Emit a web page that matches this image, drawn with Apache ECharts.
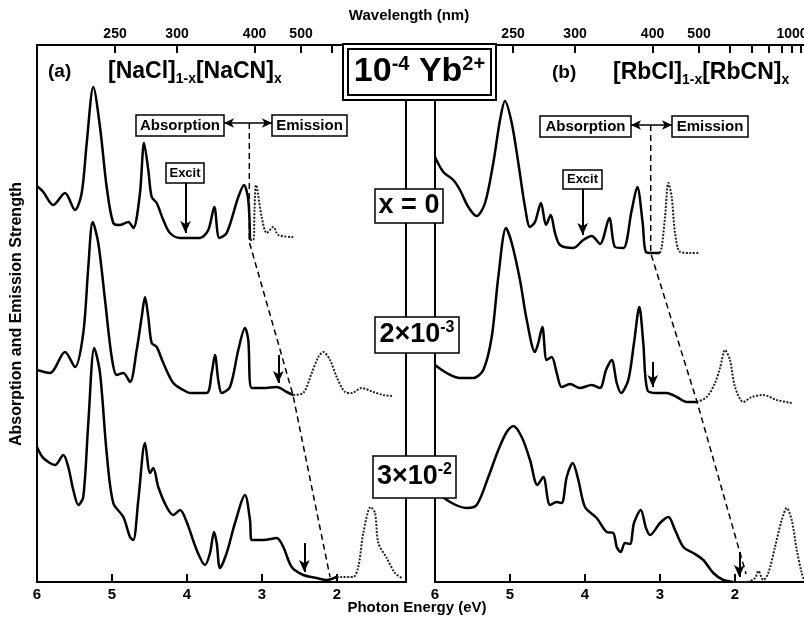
<!DOCTYPE html>
<html>
<head>
<meta charset="utf-8">
<script src="https://cdn.jsdelivr.net/npm/echarts@6/dist/echarts.min.js"></script>
<style>
html, body { margin: 0; padding: 0; background: #fff; }
#main { width: 804px; height: 622px; }
</style>
</head>
<body>
<div id="main"></div>
<script>
var HC = 1239.84;   // eV * nm
var FONT = 'Liberation Sans, Arial, Helvetica, sans-serif';

// axis ticks
var energyTicks = [2, 3, 4, 5, 6];
var nmTicks = [250, 300, 400, 500, 600, 700, 800, 900, 1000, 1100];
var nmLabelsA = [250, 300, 400, 500];
var nmLabelsB = [250, 300, 400, 500, 1000];

// (a) [NaCl]1-x[NaCN]x, points are [photon energy (eV), strength (arb.)]
var naAbs0 = [[6.00,396],[5.916,390],[5.783,377],[5.627,389],[5.493,372],[5.404,389],[5.337,439],[5.249,495],
  [5.160,455],[5.071,395],[4.983,359],[4.893,357],[4.783,360],[4.716,354],[4.627,389],[4.573,439],[4.516,412],
  [4.471,385],[4.404,379],[4.316,362],[4.227,349],[4.093,344],[3.827,344],[3.716,352],[3.636,375],[3.569,344],
  [3.471,349],[3.316,385],[3.240,397],[3.183,382],[3.160,342]];
var naEm0 = [[3.160,342],[3.116,342],[3.100,372],[3.080,397],[3.004,365],[2.937,349],[2.849,355],[2.783,347],[2.583,345]];

var naAbs1 = [[6.00,212],[5.827,209],[5.627,230],[5.493,215],[5.383,249],[5.316,315],[5.257,360],[5.183,339],
  [5.093,282],[5.004,225],[4.937,207],[4.849,209],[4.760,200],[4.671,232],[4.604,265],[4.560,285],[4.516,265],
  [4.471,239],[4.404,235],[4.316,219],[4.183,199],[4.049,192],[3.960,189],[3.737,189],[3.671,209],[3.627,227],
  [3.583,202],[3.537,189],[3.427,195],[3.316,232],[3.227,254],[3.183,242],[3.137,194],[2.983,194],[2.804,195],
  [2.671,190],[2.583,187]];
var naEm1 = [[2.583,187],[2.449,189],[2.337,209],[2.249,225],[2.183,230],[2.093,222],[2.004,205],[1.893,190],
  [1.804,189],[1.671,194],[1.516,190],[1.383,187],[1.249,186]];

var naAbs2 = [[6.00,135],[5.916,124],[5.760,117],[5.649,127],[5.583,115],[5.516,92],[5.449,77],[5.383,85],
  [5.316,159],[5.236,234],[5.160,209],[5.071,129],[4.983,79],[4.849,65],[4.760,45],[4.716,42],[4.649,82],
  [4.560,139],[4.493,109],[4.449,114],[4.383,95],[4.271,75],[4.183,67],[4.093,72],[4.004,60],[3.871,32],
  [3.760,17],[3.693,29],[3.640,50],[3.604,39],[3.560,14],[3.471,29],[3.360,59],[3.227,87],[3.160,62],
  [3.137,42],[2.983,42],[2.804,44],[2.716,35],[2.604,15],[2.449,7],[2.271,4],[2.137,2],[2.004,5]];
var naEm2 = [[2.004,5],[1.937,5],[1.783,5],[1.716,15],[1.649,49],[1.551,75],[1.493,69],[1.449,39],[1.337,24],
  [1.227,9],[1.137,4]];

// (b) [RbCl]1-x[RbCN]x
var rbAbs0 = [[6.00,425],[5.889,410],[5.756,402],[5.667,392],[5.556,375],[5.444,366],[5.333,379],[5.223,419],
  [5.133,462],[5.067,481],[4.977,459],[4.889,419],[4.800,375],[4.733,355],[4.667,360],[4.587,379],[4.520,357],
  [4.457,367],[4.400,349],[4.333,337],[4.156,334],[4.023,342],[3.911,346],[3.800,338],[3.676,364],[3.600,335],
  [3.489,334],[3.377,372],[3.303,395],[3.231,359],[3.187,330],[3.089,329],[3.000,329]];
var rbEm0 = [[3.000,329],[2.977,335],[2.933,365],[2.889,399],[2.844,385],[2.800,349],[2.733,330],[2.600,329],[2.489,329]];

var rbAbs1 = [[6.00,217],[5.844,209],[5.667,204],[5.489,204],[5.356,212],[5.244,245],[5.156,305],[5.053,354],
  [4.977,339],[4.867,302],[4.777,262],[4.667,230],[4.623,239],[4.569,255],[4.511,222],[4.444,225],[4.377,209],
  [4.311,195],[4.200,198],[4.067,194],[3.911,197],[3.800,194],[3.720,212],[3.644,222],[3.577,199],[3.520,189],
  [3.423,202],[3.347,239],[3.276,275],[3.223,239],[3.169,192],[3.044,189],[2.911,189],[2.777,185],[2.644,180],
  [2.511,180]];
var rbEm1 = [[2.511,180],[2.377,185],[2.267,199],[2.200,214],[2.133,232],[2.067,222],[2.000,195],[1.889,180],
  [1.777,185],[1.623,187],[1.444,182],[1.244,179]];

var rbAbs2 = [[6.00,92],[5.800,80],[5.577,74],[5.444,77],[5.289,105],[5.156,132],[5.044,150],[4.956,156],
  [4.844,145],[4.733,122],[4.636,97],[4.556,105],[4.467,77],[4.377,80],[4.311,79],[4.244,105],[4.164,119],
  [4.089,102],[4.000,75],[3.844,64],[3.711,50],[3.623,49],[3.577,35],[3.524,30],[3.467,39],[3.400,38],
  [3.347,59],[3.257,72],[3.187,54],[3.133,47],[3.000,59],[2.889,65],[2.800,52],[2.689,35],[2.556,29],
  [2.423,22],[2.289,9],[2.156,2],[2.023,0]];
var rbEm2 = [[2.023,0],[1.844,0],[1.733,4],[1.689,11],[1.623,2],[1.556,9],[1.467,35],[1.377,62],[1.311,74],
  [1.244,62],[1.177,32],[1.111,9],[1.067,0]];

// dashed guide through the emission onsets
var guideA = [[3.169,459],[3.169,340],[2.587,187],[2.093,5]];
var guideB = [[3.124,457],[3.124,329],[2.51,181],[1.853,8]];

// down arrows: [energy, from, to]
var arrowsA = [[4.02,400,349],[2.783,227,199],[2.436,39,10]];
var arrowsB = [[4.031,393,347],[3.097,220,195],[1.943,30,5]];
// Absorption <-> Emission arrow: [from energy, to energy, strength]
var dblA = [3.507, 2.867, 459];
var dblB = [3.387, 2.84, 457];

var E_MAX = 6, E_MIN_A = 1.08, E_MIN_B = 1.067, Y_MAX = 537;

var myChart = echarts.init(document.getElementById('main'));

function energyAxis(grid, min) {
    return {
        type: 'value', gridIndex: grid, position: 'bottom', min: min, max: E_MAX, inverse: true,
        axisLine: {show: false}, splitLine: {show: false},
        axisTick: {inside: true, length: 8, customValues: energyTicks, lineStyle: {color: '#000', width: 2}},
        axisLabel: {customValues: energyTicks, color: '#000', fontWeight: 'bold', fontSize: 15, fontFamily: FONT, margin: 5}
    };
}
function nmAxis(grid, min, labels) {
    return {
        type: 'value', gridIndex: grid, position: 'top', min: min, max: E_MAX, inverse: true,
        axisLine: {show: false}, splitLine: {show: false},
        axisTick: {inside: true, length: 8, customValues: nmTicks.map(function (n) { return HC / n; }),
            lineStyle: {color: '#000', width: 2}},
        axisLabel: {customValues: labels.map(function (n) { return HC / n; }),
            formatter: function (v) { return Math.round(HC / v); },
            color: '#000', fontWeight: 'bold', fontSize: 14, fontFamily: FONT, margin: 4}
    };
}
function yAx(grid) {
    return {type: 'value', gridIndex: grid, min: 0, max: Y_MAX, show: false};
}

function curve(data, panel, emission) {
    return {
        type: 'line', xAxisIndex: panel * 2, yAxisIndex: panel, data: data,
        showSymbol: false, smooth: 0.3, silent: true,
        lineStyle: emission ? {color: '#222', width: 2, type: [2, 1.5]} : {color: '#000', width: 2.5}
    };
}
function guide(data, panel, arrows, dbl) {
    var ml = arrows.map(function (a) {
        return [{coord: [a[0], a[1]]}, {coord: [a[0], a[2]]}];
    });
    var mlDbl = [[{coord: [dbl[0], dbl[2]]}, {coord: [dbl[1], dbl[2]]}]];
    return [{
        type: 'line', xAxisIndex: panel * 2, yAxisIndex: panel, data: data, showSymbol: false, silent: true,
        lineStyle: {color: '#000', width: 1.5, type: [6, 4]},
        markLine: {silent: true, symbol: ['none', 'arrow'], symbolSize: [8, 12], label: {show: false},
            lineStyle: {color: '#000', width: 2, type: 'solid'}, data: ml}
    }, {
        type: 'line', xAxisIndex: panel * 2, yAxisIndex: panel, data: [], silent: true,
        markLine: {silent: true, symbol: ['arrow', 'arrow'], symbolSize: [7, 10], label: {show: false},
            lineStyle: {color: '#000', width: 1.5, type: 'solid'}, data: mlDbl}
    }];
}

// boxed text on top of everything
function box(x, y, w, h, text, size, rich, lw, outer) {
    var kids = [];
    if (outer) {
        kids.push({type: 'rect', z: 100, shape: {x: x - outer, y: y - outer, width: w + 2 * outer, height: h + 2 * outer},
            style: {fill: '#fff', stroke: '#000', lineWidth: lw || 1.5}});
    }
    kids.push({type: 'rect', z: 101, shape: {x: x, y: y, width: w, height: h},
        style: {fill: '#fff', stroke: '#000', lineWidth: lw || 1.5}});
    kids.push({type: 'text', z: 102, x: x + w / 2, y: y + h / 2,
        style: {text: text, fontSize: size, fontWeight: 'bold', fontFamily: FONT, fill: '#000',
            align: 'center', verticalAlign: 'middle', rich: rich || {}}});
    return {type: 'group', children: kids};
}
function label(x, y, text, size, rich, align, rot) {
    return {
        type: 'text', z: 102, x: x, y: y, rotation: rot || 0,
        style: {text: text, fontSize: size, fontWeight: 'bold', fontFamily: FONT, fill: '#000',
            align: align || 'left', verticalAlign: 'middle', rich: rich || {}}
    };
}

var sub = {s: {fontSize: 14, fontWeight: 'bold', fontFamily: FONT, padding: [14, 0, 0, 0]}};
var supBig = {p: {fontSize: 20, fontWeight: 'bold', fontFamily: FONT, padding: [0, 0, 16, 0]}};
var supMid = {p: {fontSize: 16, fontWeight: 'bold', fontFamily: FONT, padding: [0, 0, 14, 0]}};

option = {
    animation: false,
    backgroundColor: '#fff',
    grid: [
        {left: 37, top: 45, width: 369, height: 537, outerBoundsMode: 'none', containLabel: false,
            show: true, borderColor: '#000', borderWidth: 2, backgroundColor: 'transparent'},
        {left: 435, top: 45, width: 370, height: 537, outerBoundsMode: 'none', containLabel: false,
            show: true, borderColor: '#000', borderWidth: 2, backgroundColor: 'transparent'}
    ],
    xAxis: [energyAxis(0, E_MIN_A), nmAxis(0, E_MIN_A, nmLabelsA), energyAxis(1, E_MIN_B), nmAxis(1, E_MIN_B, nmLabelsB)],
    yAxis: [yAx(0), yAx(1)],
    series: [
        curve(naAbs0, 0), curve(naEm0, 0, true),
        curve(naAbs1, 0), curve(naEm1, 0, true),
        curve(naAbs2, 0), curve(naEm2, 0, true),
        curve(rbAbs0, 1), curve(rbEm0, 1, true),
        curve(rbAbs1, 1), curve(rbEm1, 1, true),
        curve(rbAbs2, 1), curve(rbEm2, 1, true)
    ].concat(guide(guideA, 0, arrowsA, dblA), guide(guideB, 1, arrowsB, dblB)),
    graphic: [
        label(409, 16, 'Wavelength (nm)', 15, null, 'center'),
        label(417, 608, 'Photon Energy (eV)', 15, null, 'center'),
        label(17, 314, 'Absorption and Emission Strength', 16, null, 'center', Math.PI / 2),
        label(48, 72, '(a)', 19),
        label(108, 72, '[NaCl]{s|1-x}[NaCN]{s|x}', 23, sub),
        label(552, 73, '(b)', 19),
        label(613, 73, '[RbCl]{s|1-x}[RbCN]{s|x}', 23, sub),
        box(136, 115, 88, 21, 'Absorption', 15),
        box(272, 115, 75, 21, 'Emission', 15),
        box(166, 163, 38, 20, 'Excit', 13),
        box(540, 116, 91, 21, 'Absorption', 15),
        box(672, 116, 76, 21, 'Emission', 15),
        box(563, 170, 39, 19, 'Excit', 13),
        box(348, 49, 143, 46, '10{p|-4} Yb{p|2+}', 34, supBig, 2, 5),
        box(375, 189, 68, 34, 'x = 0', 27),
        box(375, 317, 84, 36, '2×10{p|-3}', 27, supMid),
        box(373, 456, 83, 42, '3×10{p|-2}', 27, supMid)
    ]
};
myChart.setOption(option);
</script>
</body>
</html>
